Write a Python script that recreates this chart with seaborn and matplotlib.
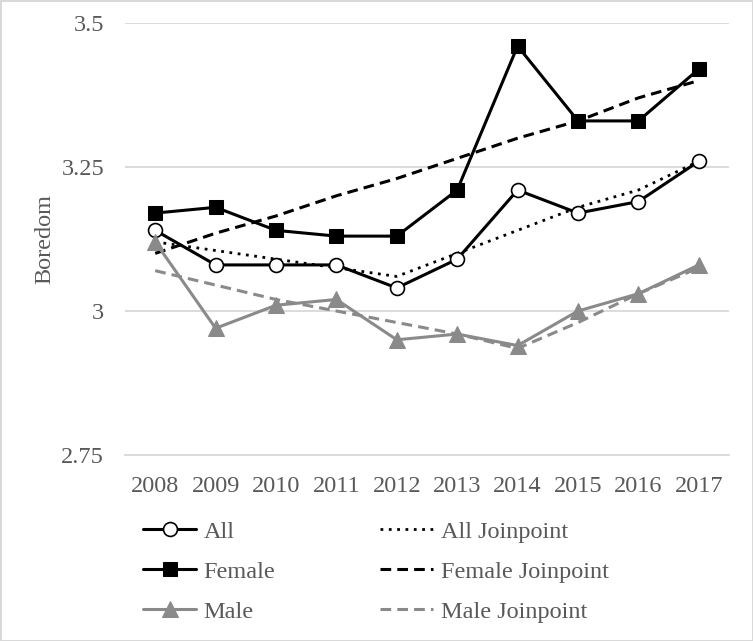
import matplotlib
matplotlib.use("Agg")
import matplotlib.pyplot as plt
import matplotlib.ticker as mticker
import numpy as np
import pandas as pd
import seaborn as sns

years = [2008, 2009, 2010, 2011, 2012, 2013, 2014, 2015, 2016, 2017]
all_vals = [3.14, 3.08, 3.08, 3.08, 3.04, 3.09, 3.21, 3.17, 3.19, 3.26]
female_vals = [3.17, 3.18, 3.14, 3.13, 3.13, 3.21, 3.46, 3.33, 3.33, 3.42]
male_vals = [3.12, 2.97, 3.01, 3.02, 2.95, 2.96, 2.94, 3.00, 3.03, 3.08]
all_jp = [3.12, 3.105, 3.09, 3.075, 3.06, 3.10, 3.14, 3.18, 3.21, 3.26]
female_jp = [3.10, 3.135, 3.165, 3.20, 3.23, 3.265, 3.30, 3.33, 3.37, 3.40]
male_jp = [3.07, 3.045, 3.02, 3.00, 2.98, 2.96, 2.935, 2.98, 3.03, 3.075]
yticks = [2.75, 3.0, 3.25, 3.5]

sns.set_theme(style="white")
plt.rcParams['font.family'] = ['Liberation Serif', 'DejaVu Serif']

GRAY = '#8a8a8a'
TXT = '#595959'
FS = 17.5

fig = plt.figure(figsize=(7.53, 6.41), dpi=100)
fig.patch.set_edgecolor('#d9d9d9')
fig.patch.set_linewidth(2)
ax = fig.add_axes([125 / 753, 1 - 455 / 641, (729 - 125) / 753, (455 - 23) / 641])

# joinpoint trends
sns.lineplot(x=years, y=all_jp, ax=ax, color='black', linewidth=2, label='All Joinpoint')
ax.lines[-1].set_linestyle((0, (1, 2)))
sns.lineplot(x=years, y=female_jp, ax=ax, color='black', linewidth=2.2, label='Female Joinpoint')
ax.lines[-1].set_linestyle((0, (3.5, 2)))
sns.lineplot(x=years, y=male_jp, ax=ax, color=GRAY, linewidth=2.2, label='Male Joinpoint')
ax.lines[-1].set_linestyle((0, (3.5, 2)))

# observed values
sns.lineplot(x=years, y=all_vals, ax=ax, color='black', linewidth=2.2, marker='o',
             markersize=10, markerfacecolor='white', markeredgecolor='black',
             markeredgewidth=1.2, label='All')
sns.lineplot(x=years, y=female_vals, ax=ax, color='black', linewidth=2.2, marker='s',
             markersize=10.5, markeredgecolor='black', label='Female')
sns.lineplot(x=years, y=male_vals, ax=ax, color=GRAY, linewidth=2.2, marker='^',
             markersize=11, markeredgecolor=GRAY, label='Male')

ax.set_xlim(2007.5, 2017.5)
ax.set_ylim(2.75, 3.5)
ax.set_yticks(yticks)
ax.yaxis.set_major_formatter(mticker.FuncFormatter(lambda v, p: f'{v:g}'))
ax.set_xticks(years)
ax.set_xticklabels([str(y) for y in years])
ax.set_xticks(np.arange(2007.5, 2018, 1), minor=True)
ax.grid(axis='y', color='#d9d9d9', linewidth=1.3)
ax.set_axisbelow(True)
for s in ['top', 'right', 'left']:
    ax.spines[s].set_visible(False)
ax.spines['bottom'].set_color('#d9d9d9')
ax.spines['bottom'].set_linewidth(1.3)
ax.tick_params(axis='x', which='major', length=0, labelsize=FS, labelcolor=TXT, pad=15)
ax.tick_params(axis='x', which='minor', direction='in', length=6, color='#d9d9d9', width=1.3)
ax.tick_params(axis='y', length=0, labelsize=FS, labelcolor=TXT, pad=15)
ax.set_ylabel('Boredom', fontsize=FS, color=TXT, labelpad=4)
ax.set_xlabel('')

handles, labels = ax.get_legend_handles_labels()
order = ['All', 'Female', 'Male', 'All Joinpoint', 'Female Joinpoint', 'Male Joinpoint']
hmap = dict(zip(labels, handles))
ax.legend([hmap[k] for k in order], order, ncol=2, loc='upper left',
          bbox_to_anchor=(121 / 753, 1 - 499 / 641), bbox_transform=fig.transFigure,
          frameon=False, fontsize=FS, labelcolor=TXT, handlelength=2.2,
          handletextpad=0.3, columnspacing=4.3, labelspacing=0.74)

fig.savefig('out.png', dpi=100, edgecolor=fig.get_edgecolor())
